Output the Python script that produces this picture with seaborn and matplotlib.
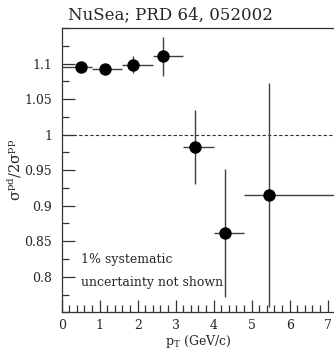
import numpy as np
import pandas as pd
import matplotlib
matplotlib.use("Agg")
import matplotlib.pyplot as plt
from matplotlib.ticker import MultipleLocator
import seaborn as sns

# data
pt = [0.50, 1.14, 1.89, 2.67, 3.51, 4.31, 5.46]
ratio = [1.095, 1.092, 1.098, 1.110, 0.982, 0.861, 0.915]
ratio_err = [0.004, 0.004, 0.012, 0.027, 0.052, 0.090, 0.157]
bin_lo = [0.0, 0.8, 1.6, 2.4, 3.2, 4.0, 4.8]
bin_hi = [0.8, 1.6, 2.4, 3.2, 4.0, 4.8, 8.0]

df = pd.DataFrame({'pt': pt, 'ratio': ratio})

sns.set_style("ticks")
plt.rcParams['font.family'] = ['DejaVu Serif']
plt.rcParams['mathtext.fontset'] = 'dejavuserif'

fig = plt.figure(figsize=(3.34, 3.51), dpi=100)
ax = fig.add_axes([0.1847, 0.1103, 0.819, 0.810])

xerr = [np.array(pt) - np.array(bin_lo), np.array(bin_hi) - np.array(pt)]
ax.errorbar(pt, ratio, yerr=ratio_err, xerr=xerr, fmt='none',
            ecolor='#404040', elinewidth=1.0, capsize=0, zorder=2)
sns.scatterplot(data=df, x='pt', y='ratio', ax=ax, color='black',
                s=80, edgecolor='black', linewidth=0, zorder=3)

ax.axhline(1.0, color='#333333', lw=0.8, ls=(0, (3, 2)), zorder=1)

ax.set_xlim(0, 7.2)
ax.set_ylim(0.75, 1.15)
ax.xaxis.set_major_locator(MultipleLocator(1))
ax.xaxis.set_minor_locator(MultipleLocator(0.2))
ax.yaxis.set_minor_locator(MultipleLocator(0.025))
ax.set_yticks([0.8, 0.85, 0.9, 0.95, 1.0, 1.05, 1.1])
ax.set_yticklabels(['0.8', '0.85', '0.9', '0.95', '1', '1.05', '1.1'])
ax.tick_params(which='major', direction='in', length=9, width=0.9,
               labelsize=9, color='#333333')
ax.tick_params(which='minor', direction='in', length=5, width=0.9,
               color='#333333')
ax.tick_params(axis='x', pad=5)
ax.tick_params(axis='y', pad=7)
for s in ['top', 'right', 'left', 'bottom']:
    ax.spines[s].set_color('#333333')
    ax.spines[s].set_linewidth(0.9)

ax.set_xlabel(r'p$_{\mathrm{T}}$ (GeV/c)', fontsize=9)
ax.xaxis.set_label_coords(0.5, -0.104)
ax.xaxis.label.set_va('center')
ax.set_ylabel(r'σ$^{\mathrm{pd}}$/2σ$^{\mathrm{pp}}$', fontsize=10.5)
ax.yaxis.set_label_coords(-0.172, 0.5)
ax.yaxis.label.set_va('center')

ax.text(0.52, 0.824, '1% systematic', fontsize=9, va='center')
ax.text(0.52, 0.7914, 'uncertainty not shown', fontsize=9, va='center')

fig.text(170.5 / 334, 1 - 15 / 351, 'NuSea; PRD 64, 052002',
         fontsize=12, ha='center', va='center')

fig.savefig('out.png', dpi=100)
